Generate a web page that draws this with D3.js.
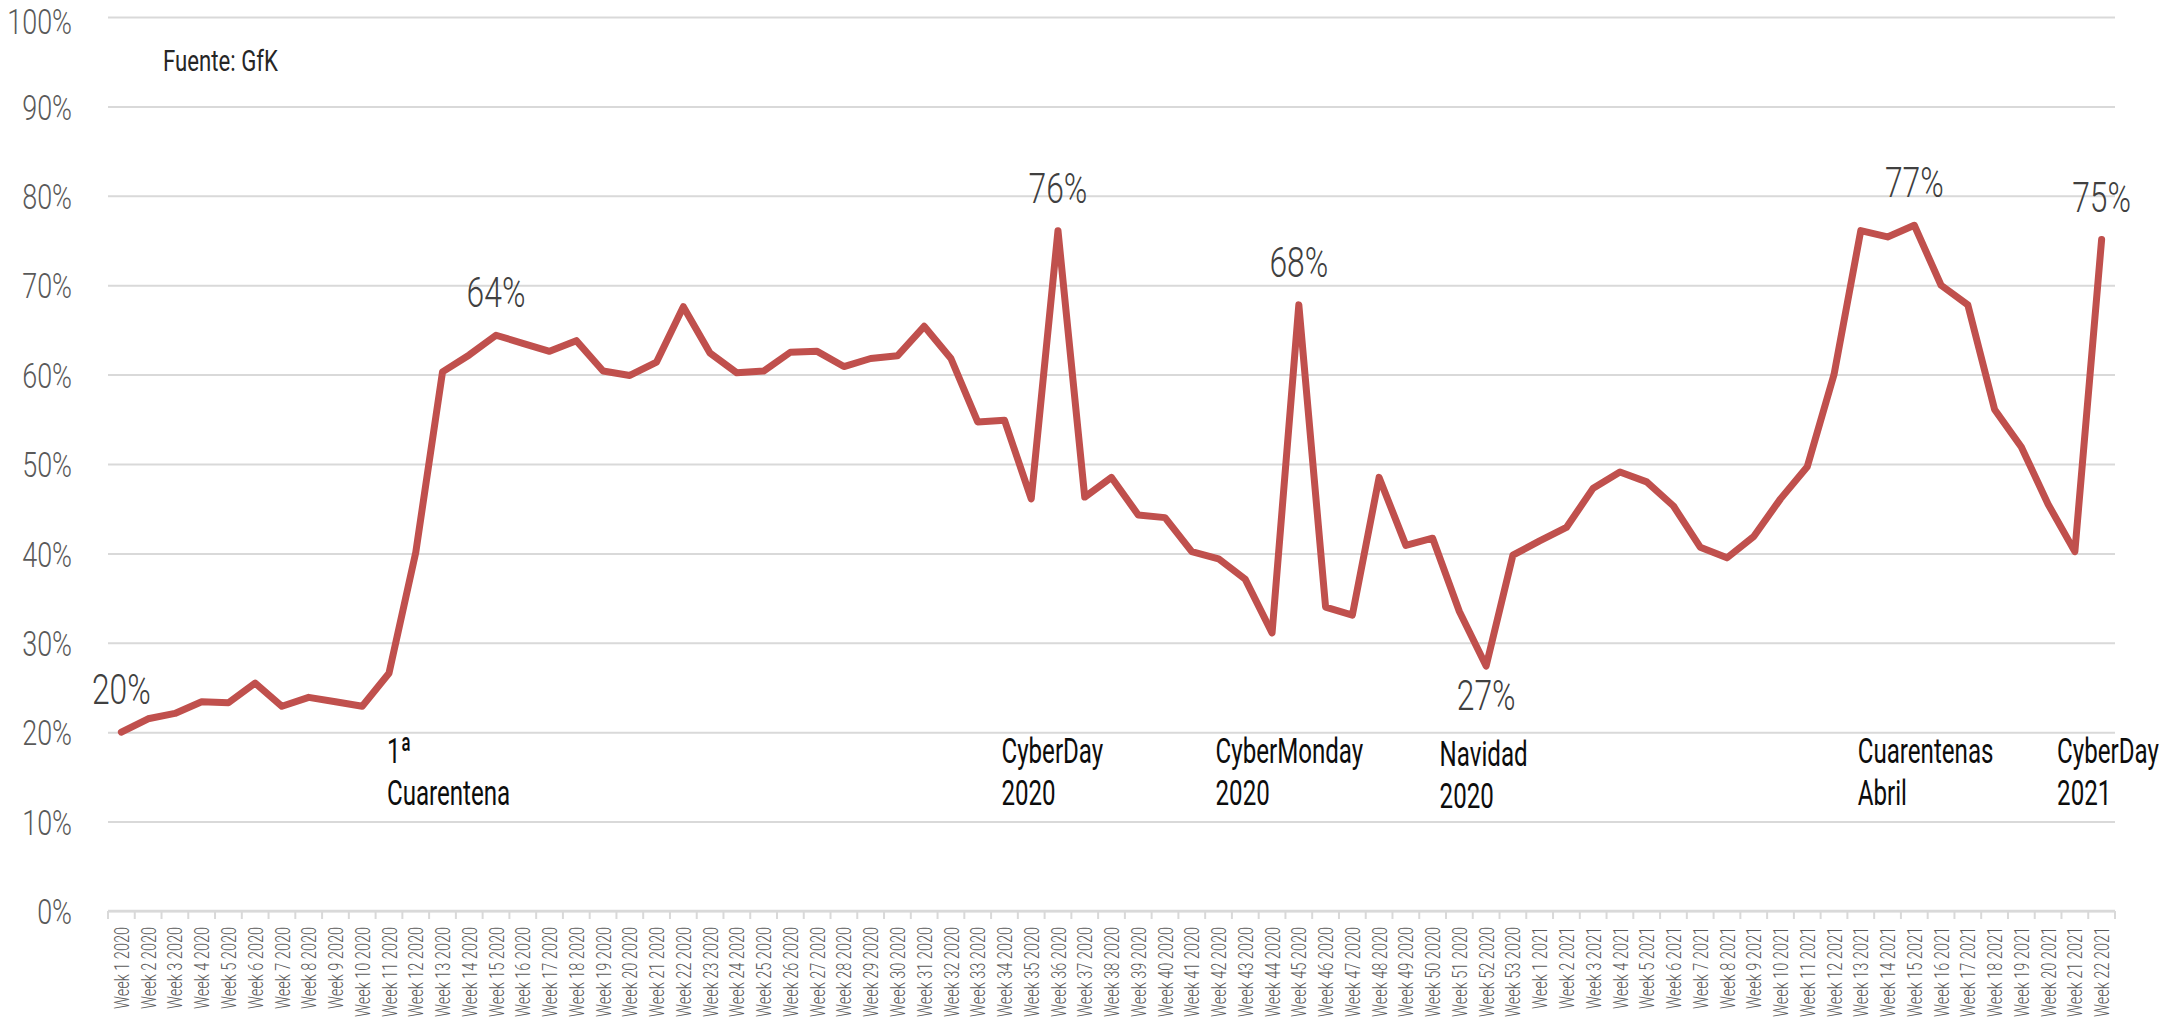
<!DOCTYPE html>
<html>
<head>
<meta charset="utf-8">
<script src="https://cdn.jsdelivr.net/npm/d3@7"></script>
<style>
  html, body { margin: 0; padding: 0; background: #ffffff; overflow: hidden; }
  svg { display: block; }
  text { font-family: Roboto, "Noto Sans", sans-serif; }
</style>
</head>
<body>
<svg id="chart" width="2168" height="1022"></svg>
<script>
// Weekly categories
const weeks2020 = ["Week 1 2020","Week 2 2020","Week 3 2020","Week 4 2020","Week 5 2020","Week 6 2020","Week 7 2020","Week 8 2020","Week 9 2020","Week 10 2020",
  "Week 11 2020","Week 12 2020","Week 13 2020","Week 14 2020","Week 15 2020","Week 16 2020","Week 17 2020","Week 18 2020","Week 19 2020","Week 20 2020",
  "Week 21 2020","Week 22 2020","Week 23 2020","Week 24 2020","Week 25 2020","Week 26 2020","Week 27 2020","Week 28 2020","Week 29 2020","Week 30 2020",
  "Week 31 2020","Week 32 2020","Week 33 2020","Week 34 2020","Week 35 2020","Week 36 2020","Week 37 2020","Week 38 2020","Week 39 2020","Week 40 2020",
  "Week 41 2020","Week 42 2020","Week 43 2020","Week 44 2020","Week 45 2020","Week 46 2020","Week 47 2020","Week 48 2020","Week 49 2020","Week 50 2020",
  "Week 51 2020","Week 52 2020","Week 53 2020"];
const weeks2021 = ["Week 1 2021","Week 2 2021","Week 3 2021","Week 4 2021","Week 5 2021","Week 6 2021","Week 7 2021","Week 8 2021","Week 9 2021","Week 10 2021",
  "Week 11 2021","Week 12 2021","Week 13 2021","Week 14 2021","Week 15 2021","Week 16 2021","Week 17 2021","Week 18 2021","Week 19 2021","Week 20 2021",
  "Week 21 2021","Week 22 2021"];

// Share per week (%)
const values2020 = [20.0, 21.5, 22.1, 23.4, 23.3, 25.5, 22.9, 23.9, 23.4, 22.9,
  26.6, 40.1, 60.3, 62.2, 64.4, 63.5, 62.6, 63.8, 60.4, 59.9,
  61.4, 67.6, 62.4, 60.2, 60.4, 62.5, 62.6, 60.9, 61.8, 62.1,
  65.4, 61.8, 54.7, 54.9, 46.1, 76.1, 46.3, 48.5, 44.3, 44.0,
  40.2, 39.4, 37.1, 31.1, 67.8, 34.0, 33.1, 48.5, 40.9, 41.7,
  33.5, 27.4, 39.8];
const values2021 = [41.4, 42.9, 47.3, 49.1, 48.0, 45.3, 40.7, 39.5, 41.9, 46.1,
  49.7, 60.0, 76.1, 75.4, 76.7, 70.0, 67.8, 56.1, 51.9, 45.5,
  40.2, 75.1];

const yTicks = [0, 10, 20, 30, 40, 50, 60, 70, 80, 90, 100];

// Weeks whose value is printed, and where the label sits
const valueLabelWeeks = ["Week 1 2020", "Week 15 2020", "Week 36 2020", "Week 45 2020", "Week 15 2021", "Week 22 2021"];
const valueLabelBelowWeeks = ["Week 52 2020"];

// Event notes under the line
const eventWeeks = ["Week 11 2020", "Week 34 2020", "Week 42 2020", "Week 50 2020", "Week 13 2021", "Week 20 2021"];
const eventLines = [["1ª", "Cuarentena"], ["CyberDay", "2020"], ["CyberMonday", "2020"], ["Navidad", "2020"], ["Cuarentenas", "Abril"], ["CyberDay", "2021"]];
const eventShift = [-2, -3, -3, 7, -3, 9];

const sourceText = "Fuente: GfK";

const categories = weeks2020.concat(weeks2021);
const values = values2020.concat(values2021);
const data = categories.map((c, i) => ({ week: c, v: values[i] }));

const svg = d3.select("#chart");
const plotLeft = 108, plotRight = 2115, plotTop = 17, plotBottom = 911;

const x = d3.scaleBand().domain(categories).range([plotLeft, plotRight]).paddingInner(0).paddingOuter(0);
const cx = d => x(d) + x.bandwidth() / 2;
const y = d3.scaleLinear().domain([0, 100]).range([plotBottom, plotTop]);

const grey = "#d9d9d9";

// Gridlines and y labels (the top label is nudged down to stay inside the page)
const yAxis = svg.append("g")
  .attr("transform", `translate(${plotLeft},0)`)
  .call(d3.axisLeft(y).tickValues(yTicks).tickSize(-(plotRight - plotLeft)).tickFormat(d => d + "%"));
yAxis.select(".domain").remove();
yAxis.selectAll(".tick line").attr("stroke", grey).attr("stroke-width", 2);
yAxis.selectAll(".tick text")
  .attr("x", null).attr("dy", "0.36em")
  .attr("text-anchor", "end")
  .attr("transform", d => `translate(-36,${d === 100 ? 4 : 0}) scale(0.77,1)`)
  .attr("fill", "#595959")
  .style("font-size", "35px")
  .style("font-weight", 300)
  .style("font-family", "Roboto, sans-serif");

// Category axis: baseline, boundary ticks and rotated labels
svg.append("line")
  .attr("x1", plotLeft).attr("x2", plotRight)
  .attr("y1", y(0)).attr("y2", y(0))
  .attr("stroke", grey).attr("stroke-width", 2.5);

const boundaries = categories.map(c => x(c)).concat([plotRight]);
svg.append("g").selectAll("line").data(boundaries).join("line")
  .attr("x1", d => d).attr("x2", d => d)
  .attr("y1", y(0)).attr("y2", y(0) + 8)
  .attr("stroke", grey).attr("stroke-width", 2);

svg.append("g").selectAll("text").data(categories).join("text")
  .attr("transform", d => `translate(${cx(d)},${y(0) + 16}) rotate(-90) scale(0.69,1)`)
  .attr("text-anchor", "end")
  .attr("dy", "0.36em")
  .attr("fill", "#595959")
  .style("font-size", "21px")
  .style("font-weight", 300)
  .text(d => d);

// Series line
const line = d3.line().x(d => cx(d.week)).y(d => y(d.v));
svg.append("path")
  .datum(data)
  .attr("d", line)
  .attr("fill", "none")
  .attr("stroke", "#c0504d")
  .attr("stroke-width", 7)
  .attr("stroke-linejoin", "round")
  .attr("stroke-linecap", "round");

// Value labels
const byWeek = new Map(data.map(d => [d.week, d]));
const fmt = v => Math.round(v) + "%";
svg.append("g").selectAll("text").data(valueLabelWeeks.map(w => byWeek.get(w))).join("text")
  .attr("transform", d => `translate(${cx(d.week)},${y(d.v) - 28}) scale(0.74,1)`)
  .attr("text-anchor", "middle")
  .attr("fill", "#404040")
  .style("font-size", "43px")
  .style("font-weight", 300)
  .text(d => fmt(d.v));
svg.append("g").selectAll("text").data(valueLabelBelowWeeks.map(w => byWeek.get(w))).join("text")
  .attr("transform", d => `translate(${cx(d.week)},${y(d.v) + 44}) scale(0.74,1)`)
  .attr("text-anchor", "middle")
  .attr("fill", "#404040")
  .style("font-size", "43px")
  .style("font-weight", 300)
  .text(d => fmt(d.v));

// Event notes
const notes = svg.append("g").selectAll("g").data(eventWeeks).join("g")
  .attr("transform", (d, i) => `translate(${cx(d) + eventShift[i]},${i === 3 ? 766 : 763})`);
notes.each(function (d, i) {
  const g = d3.select(this);
  eventLines[i].forEach((t, k) => {
    g.append("text")
      .attr("transform", `translate(0,${k * 42}) scale(0.67,1)`)
      .attr("fill", "#0d0d0d")
      .style("font-size", "36px")
      .style("font-weight", 400)
      .text(t);
  });
});

// Source note
svg.append("text")
  .attr("transform", "translate(163,71) scale(0.74,1)")
  .attr("fill", "#262626")
  .style("font-size", "30px")
  .style("font-weight", 400)
  .text(sourceText);
</script>
</body>
</html>
